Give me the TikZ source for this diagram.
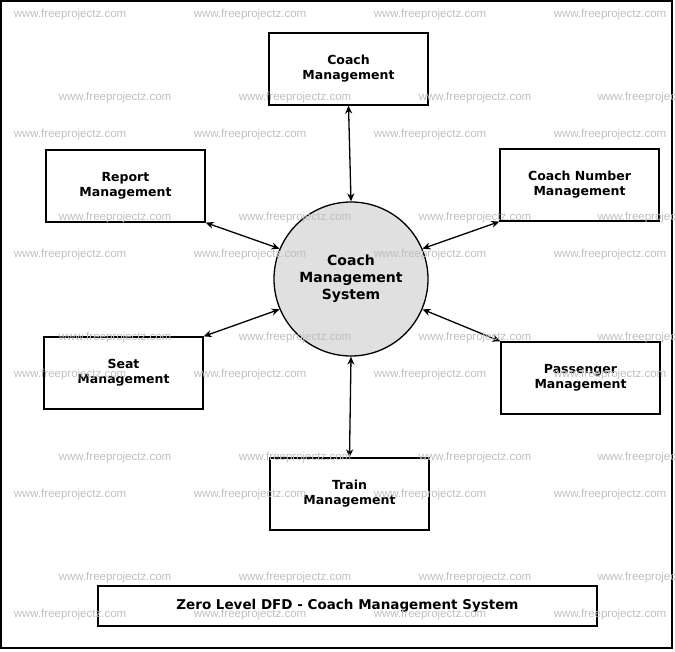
\documentclass[tikz,border=0pt]{standalone}
\usepackage{fontspec}
\setmainfont{DejaVu Sans}
\newfontfamily\wmfont{Liberation Sans}
\usetikzlibrary{arrows.meta}
\begin{document}
\begin{tikzpicture}[x=1pt,y=-1pt,
  box/.style={draw,line width=1.3pt,minimum width=159pt,minimum height=72pt,font=\bfseries\fontsize{12.5}{15}\selectfont,align=center},
  arr/.style={{Stealth[length=8pt,width=7pt]}-{Stealth[length=8pt,width=7pt]},line width=1.3pt},
  wm/.style={text=black!25,font=\wmfont\fontsize{11.5}{12}\selectfont}]
\useasboundingbox (0,0) rectangle (675,652);
\draw[line width=1.3pt] (1,1) rectangle (672,648);
\node[box] (cm) at (348.5,69) {Coach\\Management};
\node[box] (rep) at (125.5,186) {Report\\Management};
\node[box] (cn) at (579.5,185) {Coach Number\\Management};
\node[box] (seat) at (123.5,373) {Seat\\Management};
\node[box] (pas) at (580.5,378) {Passenger\\Management};
\node[box] (tr) at (349.5,494) {Train\\Management};
\node[draw,circle,line width=1.3pt,fill=black!12,minimum size=154pt,inner sep=0pt,align=center,font=\bfseries\fontsize{14}{17}\selectfont] (c) at (351,279) {Coach\\Management\\System};
\node[draw,line width=1.3pt,minimum width=499pt,minimum height=40pt,font=\bfseries\fontsize{13.5}{16}\selectfont] (t) at (347.5,606) {Zero Level DFD - Coach Management System};
\draw[arr] (cm.south) -- (c.north);
\draw[arr] (rep.south east) -- (c.157);
\draw[arr] (cn.south west) -- (c.23);
\draw[arr] (seat.north east) -- (c.203);
\draw[arr] (pas.north west) -- (c.337);
\draw[arr] (tr.north) -- (c.south);
\foreach \y in {15,135,255,375,495,615} \foreach \x in {70,250,430,610} \node[wm] at (\x,\y) {www.freeprojectz.com};
\foreach \y in {98,218,338,458,578} \foreach \x in {115,295,475} \node[wm] at (\x,\y) {www.freeprojectz.com};
\foreach \y in {98,218,338,458,578} \node[wm,anchor=west] at (594,\y) {www.freeprojectz.com};
\end{tikzpicture}
\end{document}
